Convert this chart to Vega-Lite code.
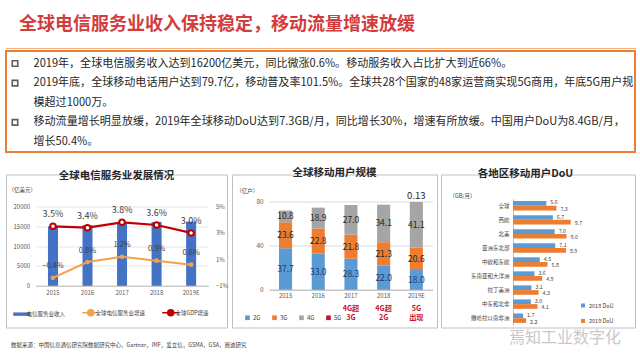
{
  "$schema": "https://vega.github.io/schema/vega-lite/v6.json",
  "background": "white",
  "padding": {"left": 5, "top": 10, "right": 0, "bottom": 0},
  "autosize": {"type": "pad"},
  "spacing": 13.5,
  "resolve": {"scale": {"color": "independent", "x": "independent", "y": "independent"}, "legend": {"color": "independent"}},
  "config": {
    "font": "Noto Sans CJK SC",
    "view": {"stroke": null},
    "axis": {"labelFont": "Noto Sans CJK SC", "titleFont": "Noto Sans CJK SC", "ticks": false, "tickSize": 0, "domain": false, "grid": false, "labelColor": "#595959"},
    "legend": {"labelFont": "Noto Sans CJK SC", "labelColor": "#404040"},
    "title": {"font": "Noto Sans CJK SC"}
  },
  "vconcat": [
    {
      "spacing": 8,
      "resolve": {"scale": {"x": "independent", "y": "independent"}},
      "vconcat": [
        {
          "width": 630,
          "height": 30,
          "view": {"fill": "white", "stroke": null},
          "data": {"values": [{"t": "全球电信服务业收入保持稳定，移动流量增速放缓"}]},
          "mark": {"type": "text", "align": "left", "baseline": "middle", "fontSize": 18, "fontWeight": "bold", "color": "#d33c3c"},
          "encoding": {
            "text": {"field": "t"},
            "x": {"datum": "t", "type": "nominal", "scale": {"type": "point", "domain": ["t"], "range": [13, 13], "padding": 0}, "axis": null}
          }
        },
        {
          "spacing": 1,
          "resolve": {"scale": {"x": "independent", "y": "independent"}},
          "vconcat": [
            {
              "width": 630,
              "height": 1,
              "view": {"fill": "#f4b183", "stroke": null},
              "data": {"values": []},
              "mark": {"type": "text"},
              "encoding": {"text": {"field": "t"}}
            },
            {
              "width": 629,
              "height": 101,
              "view": {"stroke": "#ed7d31", "strokeWidth": 2},
              "data": {"values": [
                {"line": 1, "bullet": "yes", "text": "2019年，全球电信服务收入达到16200亿美元，同比微涨0.6%。移动服务收入占比扩大到近66%。"},
                {"line": 2, "bullet": "yes", "text": "2019年底，全球移动电话用户达到79.7亿，移动普及率101.5%。全球共28个国家的48家运营商实现5G商用，年底5G用户规"},
                {"line": 3, "bullet": "no", "text": "模超过1000万。"},
                {"line": 4, "bullet": "yes", "text": "移动流量增长明显放缓，2019年全球移动DoU达到7.3GB/月，同比增长30%，增速有所放缓。中国用户DoU为8.4GB/月，"},
                {"line": 5, "bullet": "no", "text": "增长50.4%。"}
              ]},
              "encoding": {
                "y": {"field": "line", "type": "ordinal", "scale": {"type": "point", "range": [12.5, 91], "padding": 0}, "axis": null}
              },
              "layer": [
                {
                  "transform": [{"filter": "datum.bullet === 'yes'"}],
                  "mark": {"type": "point", "shape": "square", "filled": false, "size": 30, "strokeWidth": 1.6, "color": "#1a1a1a"},
                  "encoding": {"x": {"datum": "bullet", "type": "nominal", "scale": {"type": "point", "domain": ["bullet", "text"], "range": [9, 27.5], "padding": 0}, "axis": null}}
                },
                {
                  "mark": {"type": "text", "align": "left", "baseline": "middle", "fontSize": 11.05, "color": "#262626"},
                  "encoding": {
                    "x": {"datum": "text", "type": "nominal"},
                    "text": {"field": "text"}
                  }
                }
              ]
            }
          ]
        }
      ]
    },
    {
      "title": {"text": "数据来源：中国信息通信研究院数据研究中心，Gartner，IMF，爱立信，GSMA，GSA，赛迪研究", "orient": "bottom", "anchor": "start", "frame": "group", "offset": -1, "dx": 5, "baseline": "middle", "fontSize": 5.5, "fontWeight": "normal", "color": "#404040"},
      "resolve": {"scale": {"color": "independent", "x": "independent", "y": "independent"}, "legend": {"color": "independent"}},
      "spacing": 2,
      "hconcat": [
        {
          "width": 221,
          "height": 153,
          "view": {"stroke": "#c0c0c0"},
          "title": {"text": "全球电信服务业发展情况", "offset": -11.5, "baseline": "middle", "fontSize": 10.5, "fontWeight": "bold", "color": "#262626", "anchor": "middle"},
          "data": {"values": [
            {"year": "2015", "revenue": 15000, "telecom": -0.004, "gdp": 0.035},
            {"year": "2016", "revenue": 15300, "telecom": 0.008, "gdp": 0.034},
            {"year": "2017", "revenue": 15800, "telecom": 0.012, "gdp": 0.038},
            {"year": "2018", "revenue": 16100, "telecom": 0.009, "gdp": 0.036},
            {"year": "2019E", "revenue": 16200, "telecom": 0.006, "gdp": 0.030}
          ]},
          "encoding": {
            "x": {"field": "year", "type": "ordinal", "scale": {"range": [29.7, 202.4], "paddingInner": 0.71, "paddingOuter": 0.355}, "axis": {"orient": "bottom", "offset": -41.7, "domain": true, "domainColor": "#bfbfbf", "labelFontSize": 6, "labelPadding": 4, "labelAngle": 0, "title": null}}
          },
          "layer": [
            {
              "mark": {"type": "bar"},
              "encoding": {
                "y": {"field": "revenue", "type": "quantitative", "scale": {"domain": [0, 20000], "range": [111.3, 32]}, "axis": {"orient": "left", "offset": -29.7, "values": [0, 5000, 10000, 15000, 20000], "format": "d", "grid": true, "gridColor": "#e6e6e6", "labelFontSize": 6, "labelPadding": 6, "title": "（亿美元）", "titleAngle": 0, "titleX": -14, "titleY": 15, "titleFontSize": 5.5, "titleFontWeight": "normal", "titleColor": "#404040", "titleAlign": "center", "titleBaseline": "middle"}},
                "color": {
                  "datum": "电信服务业收入",
                  "scale": {"domain": ["电信服务业收入", "全球电信服务业增速", "全球GDP增速"], "range": ["#4472c4", "#f4a14b", "#c00000"]},
                  "legend": {
                    "orient": "none", "legendX": 13, "legendY": 135.5, "direction": "horizontal", "title": null,
                    "symbolSize": 289, "labelFontSize": 5.5, "labelOffset": 2, "columnPadding": 13,
                    "encode": {"symbols": {"update": {
                      "shape": {"signal": "datum.value === '电信服务业收入' ? 'M-1,-0.2H1V0.2H-1Z' : 'M-1,0H1M0.35,0A0.35,0.35 0 1,1 -0.35,0A0.35,0.35 0 1,1 0.35,0'"},
                      "fill": {"signal": "datum.value === '电信服务业收入' ? '#4472c4' : datum.value === '全球电信服务业增速' ? '#f4a14b' : '#ffffff'"},
                      "stroke": {"signal": "datum.value === '电信服务业收入' ? '#4472c4' : datum.value === '全球电信服务业增速' ? '#f4a14b' : '#c00000'"},
                      "strokeWidth": {"signal": "datum.value === '电信服务业收入' ? 0 : 1.6"},
                      "opacity": {"value": 1}
                    }}}
                  }
                }
              }
            },
            {
              "layer": [
                {
                  "mark": {"type": "line", "strokeWidth": 2},
                  "encoding": {
                    "y": {"field": "telecom", "type": "quantitative", "scale": {"domain": [-0.01, 0.05], "range": [111.3, 32]}, "axis": {"orient": "right", "offset": -18.6, "values": [-0.01, 0.01, 0.03, 0.05], "format": ".0%", "labelFontSize": 6, "labelPadding": 7, "title": null}},
                    "color": {"datum": "全球电信服务业增速"}
                  }
                },
                {
                  "mark": {"type": "point", "filled": true, "size": 22, "opacity": 1},
                  "encoding": {
                    "y": {"field": "telecom", "type": "quantitative"},
                    "color": {"datum": "全球电信服务业增速"}
                  }
                },
                {
                  "mark": {"type": "line", "strokeWidth": 2.2},
                  "encoding": {
                    "y": {"field": "gdp", "type": "quantitative"},
                    "color": {"datum": "全球GDP增速"}
                  }
                },
                {
                  "mark": {"type": "point", "filled": false, "fill": "white", "size": 30, "strokeWidth": 2, "opacity": 1},
                  "encoding": {
                    "y": {"field": "gdp", "type": "quantitative"},
                    "color": {"datum": "全球GDP增速"}
                  }
                },
                {
                  "mark": {"type": "text", "dy": -11.5, "fontSize": 7.5, "color": "#404040"},
                  "encoding": {
                    "y": {"field": "telecom", "type": "quantitative"},
                    "text": {"field": "telecom", "type": "quantitative", "format": ".1%"}
                  }
                },
                {
                  "mark": {"type": "text", "dy": -12, "fontSize": 9, "color": "#404040"},
                  "encoding": {
                    "y": {"field": "gdp", "type": "quantitative"},
                    "text": {"field": "gdp", "type": "quantitative", "format": ".1%"}
                  }
                }
              ]
            }
          ],
          "resolve": {"scale": {"y": "independent"}}
        },
        {
          "width": 205,
          "height": 153,
          "view": {"stroke": "#c0c0c0"},
          "title": {"text": "全球移动用户规模", "offset": -8.5, "baseline": "middle", "fontSize": 10.5, "fontWeight": "bold", "color": "#262626", "anchor": "middle"},
          "data": {"values": [
            {"year": "2015", "gen": "2G", "value": 37.7},
            {"year": "2015", "gen": "3G", "value": 23.6},
            {"year": "2015", "gen": "4G", "value": 10.8},
            {"year": "2016", "gen": "2G", "value": 33.0},
            {"year": "2016", "gen": "3G", "value": 22.8},
            {"year": "2016", "gen": "4G", "value": 18.9},
            {"year": "2017", "gen": "2G", "value": 28.3},
            {"year": "2017", "gen": "3G", "value": 21.8},
            {"year": "2017", "gen": "4G", "value": 27.0},
            {"year": "2018", "gen": "2G", "value": 22.0},
            {"year": "2018", "gen": "3G", "value": 21.3},
            {"year": "2018", "gen": "4G", "value": 34.1},
            {"year": "2019E", "gen": "2G", "value": 18.0},
            {"year": "2019E", "gen": "3G", "value": 20.6},
            {"year": "2019E", "gen": "4G", "value": 41.1},
            {"year": "2019E", "gen": "5G", "value": 0.13}
          ]},
          "encoding": {
            "x": {"field": "year", "type": "ordinal", "scale": {"domain": ["2015", "2016", "2017", "2018", "2019E"], "range": [37.2, 200.7], "paddingInner": 0.6, "paddingOuter": 0.3}, "axis": {"orient": "bottom", "offset": -37.7, "domain": true, "domainColor": "#bfbfbf", "labelFontSize": 6, "labelPadding": 3, "labelAngle": 0, "title": null}}
          },
          "layer": [
            {
              "mark": {"type": "bar"},
              "encoding": {
                "y": {"field": "value", "type": "quantitative", "stack": "zero", "scale": {"domain": [0, 80], "range": [115.3, 27.3]}, "axis": {"orient": "left", "offset": -37.2, "values": [0, 20, 40, 60, 80], "grid": true, "gridColor": "#d9d9d9", "labelFontSize": 6.5, "labelPadding": 6, "title": "（亿户）", "titleAngle": 0, "titleX": -22.5, "titleY": 16, "titleFontSize": 5.5, "titleFontWeight": "normal", "titleColor": "#404040", "titleAlign": "center", "titleBaseline": "middle"}},
                "color": {"field": "gen", "type": "nominal", "scale": {"domain": ["2G", "3G", "4G", "5G"], "range": ["#5b9bd5", "#ed7d31", "#a5a5a5", "#c0143c"]}, "legend": {"orient": "none", "legendX": 12, "legendY": 139.5, "direction": "horizontal", "title": null, "symbolType": "square", "symbolSize": 22, "labelFontSize": 6, "columnPadding": 10, "labelOffset": 2}},
                "order": {"field": "gen", "type": "ordinal", "sort": "ascending"}
              }
            },
            {
              "transform": [
                {"stack": "value", "groupby": ["year"], "sort": [{"field": "gen", "order": "ascending"}], "as": ["v0", "v1"]},
                {"filter": "datum.gen !== '5G'"},
                {"calculate": "(datum.v0 + datum.v1) / 2", "as": "vmid"}
              ],
              "mark": {"type": "text", "fontSize": 8.5, "baseline": "middle"},
              "encoding": {
                "y": {"field": "vmid", "type": "quantitative"},
                "text": {"field": "value", "type": "quantitative", "format": ".1f"},
                "color": {"condition": {"test": "datum.gen === '2G'", "value": "#1f3864"}, "value": "#262626"}
              }
            },
            {
              "transform": [
                {"stack": "value", "groupby": ["year"], "sort": [{"field": "gen", "order": "ascending"}], "as": ["v0", "v1"]},
                {"filter": "datum.gen === '5G'"}
              ],
              "mark": {"type": "text", "fontSize": 9.5, "dy": -6, "color": "#262626"},
              "encoding": {
                "y": {"field": "v1", "type": "quantitative"},
                "text": {"field": "value", "type": "quantitative"}
              }
            },
            {
              "data": {"values": [
                {"year": "2017", "note": "4G超\n3G"},
                {"year": "2018", "note": "4G超\n2G"},
                {"year": "2019E", "note": "5G\n出现"}
              ]},
              "mark": {"type": "text", "lineBreak": "\n", "baseline": "top", "fontWeight": "bold", "fontSize": 7.2, "lineHeight": 9.6, "color": "#c8102e"},
              "encoding": {
                "y": {"datum": -13.5, "type": "quantitative"},
                "text": {"field": "note"}
              }
            }
          ]
        },
        {
          "width": 194,
          "height": 153,
          "view": {"stroke": "#c0c0c0"},
          "title": {"text": "焉知工业数字化", "orient": "bottom", "anchor": "middle", "frame": "group", "offset": 10, "dx": 27, "baseline": "middle", "fontSize": 16, "fontWeight": "normal", "color": "#c8c8c8"},
          "data": {"values": [
            {"region": "全球", "year": "2018 DoU", "value": 5.6},
            {"region": "全球", "year": "2019 DoU", "value": 7.3},
            {"region": "西欧", "year": "2018 DoU", "value": 6.7},
            {"region": "西欧", "year": "2019 DoU", "value": 9.7},
            {"region": "北美", "year": "2018 DoU", "value": 7.0},
            {"region": "北美", "year": "2019 DoU", "value": 9.0},
            {"region": "亚洲东北部", "year": "2018 DoU", "value": 7.1},
            {"region": "亚洲东北部", "year": "2019 DoU", "value": 8.9},
            {"region": "中欧和东欧", "year": "2018 DoU", "value": 4.5},
            {"region": "中欧和东欧", "year": "2019 DoU", "value": 5.8},
            {"region": "东南亚和大洋洲", "year": "2018 DoU", "value": 3.6},
            {"region": "东南亚和大洋洲", "year": "2019 DoU", "value": 4.9},
            {"region": "拉丁美洲", "year": "2018 DoU", "value": 3.1},
            {"region": "拉丁美洲", "year": "2019 DoU", "value": 4.3},
            {"region": "中东和北非", "year": "2018 DoU", "value": 3.0},
            {"region": "中东和北非", "year": "2019 DoU", "value": 4.1},
            {"region": "撒哈拉以南非洲", "year": "2018 DoU", "value": 1.7},
            {"region": "撒哈拉以南非洲", "year": "2019 DoU", "value": 2.2}
          ]},
          "encoding": {
            "y": {"field": "region", "type": "nominal", "sort": null, "scale": {"domain": ["全球", "西欧", "北美", "亚洲东北部", "中欧和东欧", "东南亚和大洋洲", "拉丁美洲", "中东和北非", "撒哈拉以南非洲"], "range": [24.3, 150.7], "paddingInner": 0.33, "paddingOuter": 0.165}, "axis": {"orient": "left", "offset": -72, "domain": true, "domainColor": "#bfbfbf", "labelFontSize": 5.5, "labelPadding": 4, "labelColor": "#404040", "title": "（GB/月）", "titleAngle": 0, "titleX": -51, "titleY": 21, "titleFontSize": 5.5, "titleFontWeight": "normal", "titleColor": "#404040", "titleAlign": "center", "titleBaseline": "middle"}},
            "yOffset": {"field": "year", "type": "nominal", "scale": {"domain": ["2018 DoU", "2019 DoU"]}},
            "x": {"field": "value", "type": "quantitative", "scale": {"domain": [0, 10], "range": [72, 131.5]}, "axis": {"orient": "top", "offset": 0, "labels": false, "domain": false, "ticks": false, "grid": false, "title": "各地区移动用户DoU", "titleFontSize": 10.5, "titleFontWeight": "bold", "titleColor": "#262626", "titleX": 84, "titleY": -1, "titleAlign": "center", "titleBaseline": "middle", "titleAngle": 0}}
          },
          "layer": [
            {
              "mark": {"type": "bar"},
              "encoding": {
                "color": {"field": "year", "type": "nominal", "scale": {"domain": ["2018 DoU", "2019 DoU"], "range": ["#5b9bd5", "#ed7d31"]}, "legend": {"orient": "none", "legendX": 139, "legendY": 128, "direction": "vertical", "title": null, "symbolType": "square", "symbolSize": 16, "labelFontSize": 5.5, "rowPadding": 8.5, "labelOffset": 3}}
              }
            },
            {
              "transform": [{"filter": "datum.year === '2018 DoU'"}],
              "mark": {"type": "text", "align": "left", "baseline": "middle", "dx": 4, "dy": -1, "fontSize": 5.3, "color": "#404040"},
              "encoding": {
                "text": {"field": "value", "type": "quantitative", "format": ".1f"}
              }
            },
            {
              "transform": [{"filter": "datum.year === '2019 DoU'"}],
              "mark": {"type": "text", "align": "left", "baseline": "middle", "dx": 4, "dy": 1, "fontSize": 5.3, "color": "#404040"},
              "encoding": {
                "text": {"field": "value", "type": "quantitative", "format": ".1f"}
              }
            }
          ]
        }
      ]
    }
  ]
}
